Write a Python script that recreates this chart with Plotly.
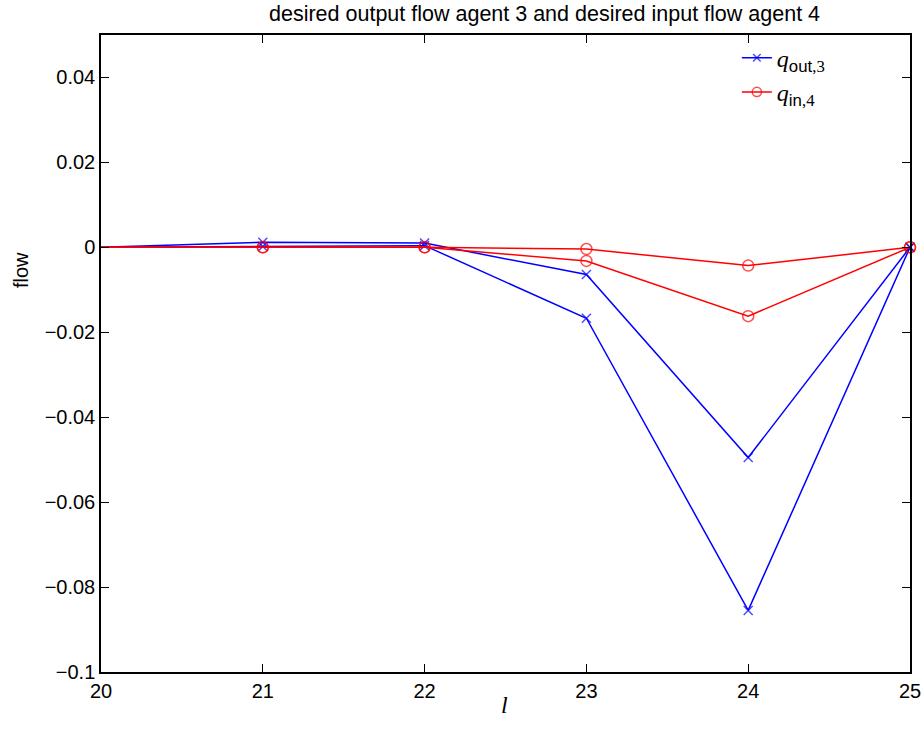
import plotly.graph_objects as go

l_vals = [20, 21, 22, 23, 24, 25]
q_out3_a = [0, 0.0012, 0.0010, -0.0064, -0.0495, 0]
q_out3_b = [0, 0.0002, 0.0004, -0.0167, -0.0855, 0]
q_in4_a = [0, 0, 0, -0.0004, -0.0043, 0]
q_in4_b = [0, 0, 0, -0.0032, -0.0162, 0]

blue = "#0000ff"
red = "#ff0000"

fig = go.Figure()

def add(y, color, symbol, name, show, size):
    fig.add_trace(go.Scatter(
        x=l_vals, y=y, mode="lines+markers", name=name, showlegend=show,
        legendgroup=name,
        line=dict(color=color, width=1.5),
        marker=dict(symbol=symbol, size=[0] + [size] * 5,
                    color=color, line=dict(color=color, width=1.5)),
        cliponaxis=False,
    ))

sans = "font-family:'Liberation Sans', Arial"
name_out = "<i>q</i><sub><span style=\"" + sans + "\">out</span>,3</sub>"
name_in = "<i>q</i><sub><span style=\"" + sans + "\">in</span>,4</sub>"

add(q_out3_a, blue, "x-thin-open", name_out, True, 9)
add(q_out3_b, blue, "x-thin-open", name_out, False, 9)
add(q_in4_a, red, "circle-open", name_in, True, 11)
add(q_in4_b, red, "circle-open", name_in, False, 11)

axis_common = dict(
    showgrid=False, zeroline=False, showline=True, linecolor="black", linewidth=1.5,
    mirror="ticks", ticks="inside", ticklen=8, tickwidth=1, tickcolor="black",
    automargin=False,
    tickfont=dict(family="Liberation Sans, Arial", size=20, color="black"),
)

W, H = 922, 742
L, R, T, B = 101, 12, 35, 70
pw, ph = W - L - R, H - T - B

fig.update_layout(
    width=W, height=H,
    margin=dict(l=L, r=R, t=T, b=B),
    paper_bgcolor="white", plot_bgcolor="white",
    title=dict(text="desired output flow agent 3 and desired input flow agent 4",
               x=(101 + 910) / 2 / 922, xref="paper", xanchor="center", y=0.982, yanchor="middle",
               font=dict(family="Liberation Sans, Arial", size=21.5, color="black")),
    xaxis=dict(range=[20, 25], tickvals=[20, 21, 22, 23, 24, 25], **axis_common),
    yaxis=dict(range=[-0.1, 0.05], tickvals=[-0.1, -0.08, -0.06, -0.04, -0.02, 0, 0.02, 0.04],
               ticktext=["\u22120.1", "\u22120.08", "\u22120.06", "\u22120.04", "\u22120.02", "0", "0.02", "0.04"],
               **axis_common),
    legend=dict(x=0.786, y=0.999, xanchor="left", yanchor="top", bgcolor="rgba(0,0,0,0)",
                font=dict(family="Liberation Serif, Times New Roman", size=24, color="black"),
                tracegroupgap=0),
)

fig.add_annotation(text="flow", textangle=-90, x=(21 - L) / pw, y=(H - B - 270) / ph,
                   xref="paper", yref="paper", xanchor="center", yanchor="middle", showarrow=False,
                   font=dict(family="Liberation Sans, Arial", size=20, color="black"))
fig.add_annotation(text="<i>l</i>", x=(504 - L) / pw, y=(H - B - 705) / ph,
                   xref="paper", yref="paper", xanchor="center", yanchor="middle", showarrow=False,
                   font=dict(family="Liberation Serif, Times New Roman", size=24, color="black"))

fig.write_html("out.html")
